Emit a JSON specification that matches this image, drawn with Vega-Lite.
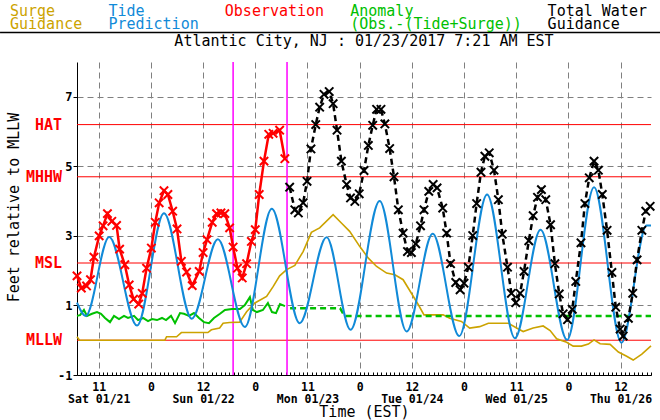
{
  "$schema": "https://vega.github.io/schema/vega-lite/v6.json",
  "autosize": {"type": "none"},
  "padding": {"left": 77, "top": 62, "right": 9, "bottom": 45},
  "width": 574,
  "height": 313,
  "background": "white",
  "config": {"view": {"stroke": null}, "font": "DejaVu Sans Mono", "style": {"guide-label": {"lineHeight": 12.5}}},
  "title": {"text": "Atlantic City, NJ : 01/23/2017 7:21 AM EST", "font": "DejaVu Sans Mono", "fontSize": 15, "fontWeight": "normal", "anchor": "middle", "offset": 0, "dy": 57, "baseline": "alphabetic", "color": "black"},
  "datasets": {
    "series": [
      {"s":"Tide","h":-5,"v":1.08},{"s":"Tide","h":-3,"v":0.7},{"s":"Tide","h":2.4,"v":2.97},{"s":"Tide","h":8.8,"v":0.42},{"s":"Tide","h":15,"v":3.65},{"s":"Tide","h":21.4,"v":0.62},{"s":"Tide","h":27.4,"v":2.9},{"s":"Tide","h":33.6,"v":0.38},{"s":"Tide","h":39.8,"v":3.78},{"s":"Tide","h":46.2,"v":0.49},{"s":"Tide","h":52.4,"v":2.96},{"s":"Tide","h":57.9,"v":0.3},{"s":"Tide","h":64.6,"v":4.0},{"s":"Tide","h":70.8,"v":0.25},{"s":"Tide","h":76.8,"v":3.06},{"s":"Tide","h":82.9,"v":0.12},{"s":"Tide","h":89.3,"v":4.19},{"s":"Tide","h":95.7,"v":0.06},{"s":"Tide","h":101.6,"v":3.18},{"s":"Tide","h":107.7,"v":0.01},{"s":"Tide","h":113.9,"v":4.4},{"s":"Tide","h":120.2,"v":-0.07},{"s":"Tide","h":126,"v":3.3},{"s":"Tide","h":127,"v":3.3},

      {"s":"Observation","h":-5,"v":1.85},{"s":"Observation","h":-4,"v":1.5},{"s":"Observation","h":-2.8,"v":1.56},{"s":"Observation","h":-1.9,"v":1.74},{"s":"Observation","h":-1.1,"v":2.39},{"s":"Observation","h":0.1,"v":3.0},{"s":"Observation","h":1.0,"v":3.29},{"s":"Observation","h":2.0,"v":3.64},{"s":"Observation","h":3.0,"v":3.42},{"s":"Observation","h":4.1,"v":3.3},{"s":"Observation","h":4.8,"v":2.62},{"s":"Observation","h":6.0,"v":2.17},{"s":"Observation","h":7.0,"v":1.59},{"s":"Observation","h":8.0,"v":1.18},{"s":"Observation","h":9.2,"v":1.04},{"s":"Observation","h":10.0,"v":1.35},{"s":"Observation","h":11.0,"v":2.07},{"s":"Observation","h":12.1,"v":2.65},{"s":"Observation","h":13.0,"v":3.39},{"s":"Observation","h":13.9,"v":3.95},{"s":"Observation","h":15.0,"v":4.3},{"s":"Observation","h":15.9,"v":4.19},{"s":"Observation","h":17.0,"v":3.71},{"s":"Observation","h":18.0,"v":3.2},{"s":"Observation","h":19.0,"v":2.27},{"s":"Observation","h":20.2,"v":1.96},{"s":"Observation","h":21.5,"v":1.57},{"s":"Observation","h":23.1,"v":1.98},{"s":"Observation","h":24.0,"v":2.52},{"s":"Observation","h":24.9,"v":2.89},{"s":"Observation","h":26.1,"v":3.39},{"s":"Observation","h":27.1,"v":3.64},{"s":"Observation","h":28.1,"v":3.66},{"s":"Observation","h":29.0,"v":3.64},{"s":"Observation","h":30.1,"v":3.23},{"s":"Observation","h":30.9,"v":2.68},{"s":"Observation","h":31.9,"v":2.07},{"s":"Observation","h":33.0,"v":1.79},{"s":"Observation","h":34.0,"v":2.2},{"s":"Observation","h":35.1,"v":2.84},{"s":"Observation","h":36.0,"v":3.18},{"s":"Observation","h":36.9,"v":4.19},{"s":"Observation","h":38.0,"v":5.15},{"s":"Observation","h":39.1,"v":5.92},{"s":"Observation","h":40.1,"v":5.95},{"s":"Observation","h":41.6,"v":6.04},{"s":"Observation","h":42.8,"v":5.22},

      {"s":"Total","h":43.9,"v":4.4},{"s":"Total","h":45.1,"v":3.75},{"s":"Total","h":45.9,"v":3.66},{"s":"Total","h":47.0,"v":3.95},{"s":"Total","h":47.9,"v":4.57},{"s":"Total","h":48.8,"v":5.5},{"s":"Total","h":49.9,"v":6.2},{"s":"Total","h":50.8,"v":6.7},{"s":"Total","h":51.8,"v":7.07},{"s":"Total","h":53.0,"v":7.15},{"s":"Total","h":53.9,"v":6.8},{"s":"Total","h":54.8,"v":6.04},{"s":"Total","h":55.8,"v":5.15},{"s":"Total","h":57.0,"v":4.48},{"s":"Total","h":57.9,"v":4.09},{"s":"Total","h":58.9,"v":3.99},{"s":"Total","h":59.9,"v":4.21},{"s":"Total","h":61.0,"v":4.88},{"s":"Total","h":62.0,"v":5.6},{"s":"Total","h":63.0,"v":6.18},{"s":"Total","h":63.9,"v":6.64},{"s":"Total","h":64.9,"v":6.64},{"s":"Total","h":65.8,"v":6.22},{"s":"Total","h":66.9,"v":5.51},{"s":"Total","h":67.9,"v":4.7},{"s":"Total","h":68.9,"v":3.75},{"s":"Total","h":70.0,"v":3.08},{"s":"Total","h":71.0,"v":2.55},{"s":"Total","h":71.9,"v":2.52},{"s":"Total","h":72.9,"v":2.77},{"s":"Total","h":74.0,"v":3.29},{"s":"Total","h":74.8,"v":3.75},{"s":"Total","h":75.9,"v":4.28},{"s":"Total","h":76.9,"v":4.48},{"s":"Total","h":77.8,"v":4.38},{"s":"Total","h":79.1,"v":3.8},{"s":"Total","h":80.0,"v":3.08},{"s":"Total","h":80.9,"v":2.2},{"s":"Total","h":82.1,"v":1.66},{"s":"Total","h":83.1,"v":1.45},{"s":"Total","h":84.0,"v":1.64},{"s":"Total","h":85.0,"v":2.1},{"s":"Total","h":86.0,"v":3.01},{"s":"Total","h":86.9,"v":3.93},{"s":"Total","h":87.9,"v":4.83},{"s":"Total","h":88.8,"v":5.29},{"s":"Total","h":89.8,"v":5.39},{"s":"Total","h":90.9,"v":4.89},{"s":"Total","h":91.9,"v":4.04},{"s":"Total","h":92.8,"v":3.05},{"s":"Total","h":94.0,"v":2.1},{"s":"Total","h":94.9,"v":1.35},{"s":"Total","h":95.9,"v":1.08},{"s":"Total","h":96.9,"v":1.35},{"s":"Total","h":97.8,"v":1.98},{"s":"Total","h":98.9,"v":2.86},{"s":"Total","h":99.9,"v":3.58},{"s":"Total","h":100.9,"v":4.11},{"s":"Total","h":101.8,"v":4.33},{"s":"Total","h":102.8,"v":4.04},{"s":"Total","h":103.9,"v":3.32},{"s":"Total","h":104.9,"v":2.2},{"s":"Total","h":105.9,"v":1.33},{"s":"Total","h":106.8,"v":0.76},{"s":"Total","h":107.8,"v":0.59},{"s":"Total","h":108.9,"v":0.89},{"s":"Total","h":109.7,"v":1.69},{"s":"Total","h":110.9,"v":2.8},{"s":"Total","h":111.8,"v":3.93},{"s":"Total","h":112.8,"v":4.67},{"s":"Total","h":113.9,"v":5.15},{"s":"Total","h":114.9,"v":4.89},{"s":"Total","h":115.8,"v":4.19},{"s":"Total","h":116.9,"v":3.16},{"s":"Total","h":118.0,"v":1.95},{"s":"Total","h":118.9,"v":0.95},{"s":"Total","h":119.9,"v":0.32},{"s":"Total","h":120.6,"v":0.12},{"s":"Total","h":121.8,"v":0.63},{"s":"Total","h":122.8,"v":1.35},{"s":"Total","h":123.8,"v":2.31},{"s":"Total","h":124.9,"v":3.16},{"s":"Total","h":125.8,"v":3.71},{"s":"Total","h":126.8,"v":3.85},

      {"s":"Surge","h":-5,"v":0.1},{"s":"Surge","h":-4.4,"v":0.0},{"s":"Surge","h":15.2,"v":0.0},{"s":"Surge","h":15.6,"v":0.1},{"s":"Surge","h":17.9,"v":0.1},{"s":"Surge","h":19.0,"v":0.22},{"s":"Surge","h":25.1,"v":0.22},{"s":"Surge","h":25.9,"v":0.3},{"s":"Surge","h":27.8,"v":0.35},{"s":"Surge","h":28.6,"v":0.49},{"s":"Surge","h":30.1,"v":0.51},{"s":"Surge","h":32.4,"v":0.52},{"s":"Surge","h":34.0,"v":0.82},{"s":"Surge","h":35.9,"v":1.07},{"s":"Surge","h":38.6,"v":1.26},{"s":"Surge","h":40.1,"v":1.54},{"s":"Surge","h":41.6,"v":1.85},{"s":"Surge","h":43.2,"v":2.03},{"s":"Surge","h":45.1,"v":2.15},{"s":"Surge","h":47.0,"v":2.55},{"s":"Surge","h":48.9,"v":3.1},{"s":"Surge","h":50.8,"v":3.23},{"s":"Surge","h":53.9,"v":3.61},{"s":"Surge","h":55.8,"v":3.37},{"s":"Surge","h":57.7,"v":3.13},{"s":"Surge","h":60.0,"v":2.7},{"s":"Surge","h":62.0,"v":2.36},{"s":"Surge","h":63.9,"v":2.12},{"s":"Surge","h":66.2,"v":1.93},{"s":"Surge","h":68.1,"v":1.88},{"s":"Surge","h":70.0,"v":1.74},{"s":"Surge","h":71.9,"v":1.35},{"s":"Surge","h":73.5,"v":1.02},{"s":"Surge","h":74.8,"v":0.73},{"s":"Surge","h":79.2,"v":0.73},{"s":"Surge","h":80.7,"v":0.63},{"s":"Surge","h":83.4,"v":0.54},{"s":"Surge","h":85.3,"v":0.35},{"s":"Surge","h":87.6,"v":0.39},{"s":"Surge","h":89.6,"v":0.49},{"s":"Surge","h":94.2,"v":0.49},{"s":"Surge","h":96.1,"v":0.35},{"s":"Surge","h":97.6,"v":0.25},{"s":"Surge","h":99.9,"v":0.35},{"s":"Surge","h":102.2,"v":0.41},{"s":"Surge","h":103.8,"v":0.28},{"s":"Surge","h":105.3,"v":0.04},{"s":"Surge","h":107.6,"v":-0.06},{"s":"Surge","h":109.1,"v":-0.17},{"s":"Surge","h":111.0,"v":-0.17},{"s":"Surge","h":112.6,"v":-0.11},{"s":"Surge","h":113.9,"v":0.01},{"s":"Surge","h":115.3,"v":-0.1},{"s":"Surge","h":117.6,"v":-0.12},{"s":"Surge","h":119.5,"v":-0.34},{"s":"Surge","h":121.4,"v":-0.46},{"s":"Surge","h":122.9,"v":-0.57},{"s":"Surge","h":124.9,"v":-0.4},{"s":"Surge","h":127.0,"v":-0.16},

      {"s":"Anomaly","k":"obs","h":-5,"v":0.7},{"s":"Anomaly","k":"obs","h":-4.3,"v":0.72},{"s":"Anomaly","k":"obs","h":-3.4,"v":0.87},{"s":"Anomaly","k":"obs","h":-2.7,"v":0.7},{"s":"Anomaly","k":"obs","h":-1.55,"v":0.76},{"s":"Anomaly","k":"obs","h":-0.4,"v":0.81},{"s":"Anomaly","k":"obs","h":0.52,"v":0.76},{"s":"Anomaly","k":"obs","h":1.44,"v":0.64},{"s":"Anomaly","k":"obs","h":2.59,"v":0.52},{"s":"Anomaly","k":"obs","h":3.51,"v":0.7},{"s":"Anomaly","k":"obs","h":4.66,"v":0.61},{"s":"Anomaly","k":"obs","h":5.81,"v":0.7},{"s":"Anomaly","k":"obs","h":6.73,"v":0.64},{"s":"Anomaly","k":"obs","h":8.11,"v":0.7},{"s":"Anomaly","k":"obs","h":9.03,"v":0.58},{"s":"Anomaly","k":"obs","h":10.18,"v":0.64},{"s":"Anomaly","k":"obs","h":11.33,"v":0.55},{"s":"Anomaly","k":"obs","h":12.25,"v":0.61},{"s":"Anomaly","k":"obs","h":13.4,"v":0.58},{"s":"Anomaly","k":"obs","h":14.55,"v":0.64},{"s":"Anomaly","k":"obs","h":15.47,"v":0.58},{"s":"Anomaly","k":"obs","h":16.62,"v":0.7},{"s":"Anomaly","k":"obs","h":17.54,"v":0.49},{"s":"Anomaly","k":"obs","h":18.69,"v":0.78},{"s":"Anomaly","k":"obs","h":19.6,"v":0.76},{"s":"Anomaly","k":"obs","h":20.75,"v":0.7},{"s":"Anomaly","k":"obs","h":21.9,"v":0.78},{"s":"Anomaly","k":"obs","h":23.06,"v":0.64},{"s":"Anomaly","k":"obs","h":24.2,"v":0.52},{"s":"Anomaly","k":"obs","h":25.35,"v":0.49},{"s":"Anomaly","k":"obs","h":26.5,"v":0.64},{"s":"Anomaly","k":"obs","h":27.88,"v":0.76},{"s":"Anomaly","k":"obs","h":29.03,"v":0.87},{"s":"Anomaly","k":"obs","h":30.64,"v":0.9},{"s":"Anomaly","k":"obs","h":32.48,"v":0.9},{"s":"Anomaly","k":"obs","h":33.6,"v":1.01},{"s":"Anomaly","k":"obs","h":34.76,"v":1.24},{"s":"Anomaly","k":"obs","h":35.45,"v":0.87},{"s":"Anomaly","k":"obs","h":36.37,"v":0.81},{"s":"Anomaly","k":"obs","h":37.75,"v":0.87},{"s":"Anomaly","k":"obs","h":38.9,"v":1.07},{"s":"Anomaly","k":"obs","h":39.84,"v":0.81},{"s":"Anomaly","k":"obs","h":40.76,"v":0.78},{"s":"Anomaly","k":"obs","h":41.68,"v":1.04},{"s":"Anomaly","k":"obs","h":42.83,"v":0.98},

      {"s":"Anomaly","k":"fcst","h":44,"v":0.92},{"s":"Anomaly","k":"fcst","h":55.5,"v":0.92},{"s":"Anomaly","k":"fcst","h":56.5,"v":0.7},{"s":"Anomaly","k":"fcst","h":127,"v":0.7}
    ],
    "levels": [
      {"level":"HAT","v":6.2},{"level":"MHHW","v":4.7},{"level":"MSL","v":2.22},{"level":"MLLW","v":0}
    ],
    "events": [
      {"event":"previous run","h":30.9},{"event":"current time","h":43.3}
    ],
    "frame": [{"part":"header rule"}]
  },
  "resolve": {"axis": {"x": "independent"}},
  "layer": [
    {
      "data": {"name": "levels"},
      "mark": {"type": "rule", "color": "#ff0000", "strokeWidth": 1},
      "encoding": {
        "y": {"field": "v", "type": "quantitative", "scale": {"domain": [-1, 8], "nice": false, "zero": false},
          "axis": {"values": [-1,0,1,2,3,4,5,6,7,8], "grid": true, "gridColor": "#808080", "gridDash": [6,4], "gridWidth": 1,
            "tickSize": 4, "tickColor": "black", "domainColor": "black", "domainWidth": 1, "labelOverlap": false, "labelFlush": false,
            "labelExpr": "'' + datum.value", "labelFont": "DejaVu Sans Mono", "labelFontWeight": "bold", "labelFontSize": 12, "labelColor": "black", "labelPadding": 1,
            "title": "Feet relative to MLLW", "titleFont": "DejaVu Sans Mono", "titleFontSize": 15, "titleFontWeight": "normal", "titleColor": "black",
            "titleX": -64, "titleY": 145, "titleAngle": 270, "titleAlign": "center", "titleBaseline": "middle"}}
      }
    },
    {
      "data": {"name": "levels"},
      "mark": {"type": "text", "color": "#ff0000", "align": "right", "baseline": "middle", "dx": -15, "font": "DejaVu Sans Mono", "fontSize": 15, "fontWeight": "bold"},
      "encoding": {
        "x": {"datum": -5, "type": "quantitative", "scale": {"domain": [-5, 127], "nice": false, "zero": false}, "axis": null},
        "y": {"field": "v", "type": "quantitative", "scale": {"domain": [-1, 8], "nice": false, "zero": false}},
        "text": {"field": "level"}
      }
    },
    {
      "data": {"name": "events"},
      "mark": {"type": "rule", "color": "#ff00ff", "strokeWidth": 1.5},
      "encoding": {
        "x": {"field": "h", "type": "quantitative", "scale": {"domain": [-5, 127], "nice": false, "zero": false}, "axis": null}
      }
    },
    {
      "data": {"name": "frame"},
      "mark": {"type": "rule", "color": "black", "strokeWidth": 1.5},
      "encoding": {
        "x": {"datum": -22.7, "type": "quantitative", "scale": {"domain": [-5, 127], "nice": false, "zero": false}, "axis": null},
        "x2": {"datum": 129.1},
        "y": {"datum": 8.85, "type": "quantitative", "scale": {"domain": [-1, 8], "nice": false, "zero": false}}
      }
    },
    {
      "data": {"name": "series"},
      "transform": [{"filter": "datum.s == 'Surge'"}],
      "mark": {"type": "line", "strokeWidth": 1.6},
      "encoding": {
        "x": {"field": "h", "type": "quantitative", "scale": {"domain": [-5, 127], "nice": false, "zero": false},
          "axis": {"orient": "bottom", "values": [-4,-3,-2,-1,0,1,2,3,4,5,6,7,8,9,10,11,12,13,14,15,16,17,18,19,20,21,22,23,24,25,26,27,28,29,30,31,32,33,34,35,36,37,38,39,40,41,42,43,44,45,46,47,48,49,50,51,52,53,54,55,56,57,58,59,60,61,62,63,64,65,66,67,68,69,70,71,72,73,74,75,76,77,78,79,80,81,82,83,84,85,86,87,88,89,90,91,92,93,94,95,96,97,98,99,100,101,102,103,104,105,106,107,108,109,110,111,112,113,114,115,116,117,118,119,120,121,122,123,124,125,126,127],
            "grid": false, "domain": false, "labels": false, "ticks": true, "tickSize": -3, "tickColor": "black", "tickWidth": 1, "title": null}},
        "y": {"field": "v", "type": "quantitative", "scale": {"domain": [-1, 8], "nice": false, "zero": false}},
        "color": {"field": "s", "type": "nominal",
          "scale": {"domain": ["Surge", "Tide", "Observation", "Anomaly", "Total"], "range": ["#cca300", "#118ad8", "#ff0000", "#00c000", "#000000"]},
          "legend": {"orient": "none", "legendX": -82, "legendY": -58.5, "direction": "horizontal", "title": null,
            "symbolSize": 0, "symbolOpacity": 0, "symbolStrokeWidth": 0, "labelOffset": 0, "columnPadding": 10.4, "padding": 0,
            "labelFont": "DejaVu Sans Mono", "labelFontSize": 15, "labelBaseline": "middle", "labelLimit": 400,
            "labelColor": {"expr": "datum.value=='Surge'?'#cca300':datum.value=='Tide'?'#118ad8':datum.value=='Observation'?'#ff0000':datum.value=='Anomaly'?'#00c000':'#000000'"},
            "labelExpr": "datum.value=='Surge'?['Surge','Guidance']:datum.value=='Tide'?['Tide','Prediction']:datum.value=='Observation'?['Observation','']:datum.value=='Anomaly'?['Anomaly','(Obs.-(Tide+Surge))']:['Total Water','Guidance']"}
        }
      }
    },
    {
      "data": {"name": "series"},
      "transform": [{"filter": "datum.s == 'Anomaly' && datum.k == 'obs'"}],
      "mark": {"type": "line", "strokeWidth": 2, "color": "#00c000"},
      "encoding": {
        "x": {"field": "h", "type": "quantitative", "scale": {"domain": [-5, 127], "nice": false, "zero": false}, "axis": null},
        "y": {"field": "v", "type": "quantitative", "scale": {"domain": [-1, 8], "nice": false, "zero": false}}
      }
    },
    {
      "data": {"name": "series"},
      "transform": [{"filter": "datum.s == 'Anomaly' && datum.k == 'fcst'"}],
      "mark": {"type": "line", "strokeWidth": 2.5, "color": "#00c000", "strokeDash": [6, 4]},
      "encoding": {
        "x": {"field": "h", "type": "quantitative", "scale": {"domain": [-5, 127], "nice": false, "zero": false}, "axis": null},
        "y": {"field": "v", "type": "quantitative", "scale": {"domain": [-1, 8], "nice": false, "zero": false}}
      }
    },
    {
      "data": {"name": "series"},
      "transform": [{"filter": "datum.s == 'Tide'"}],
      "mark": {"type": "line", "strokeWidth": 2, "interpolate": "monotone", "color": "#118ad8"},
      "encoding": {
        "x": {"field": "h", "type": "quantitative", "scale": {"domain": [-5, 127], "nice": false, "zero": false},
          "axis": {"orient": "bottom", "values": [0,12,24,36,48,60,72,84,96,108,120], "grid": true, "gridColor": "#808080", "gridDash": [6,4], "gridWidth": 1,
            "ticks": false, "domain": true, "domainColor": "black", "domainWidth": 1,
            "labelExpr": "[['11','Sat 01/21'],['0'],['12','Sun 01/22'],['0'],['11','Mon 01/23'],['0'],['12','Tue 01/24'],['0'],['11','Wed 01/25'],['0'],['12','Thu 01/26']][round(datum.value/12)]",
            "labelFont": "DejaVu Sans Mono", "labelFontWeight": "bold", "labelFontSize": 11.5, "labelColor": "black", "labelBaseline": "top", "labelPadding": 6, "labelLineHeight": 12.5,
            "labelOverlap": false, "labelFlush": false,
            "title": "Time (EST)", "titleFont": "DejaVu Sans Mono", "titleFontSize": 15, "titleFontWeight": "normal", "titleColor": "black", "titleY": 41, "titleBaseline": "alphabetic"}},
        "y": {"field": "v", "type": "quantitative", "scale": {"domain": [-1, 8], "nice": false, "zero": false}}
      }
    },
    {
      "data": {"name": "series"},
      "transform": [{"filter": "datum.s == 'Observation'"}],
      "mark": {"type": "line", "strokeWidth": 2.5, "color": "#ff0000"},
      "encoding": {
        "x": {"field": "h", "type": "quantitative", "scale": {"domain": [-5, 127], "nice": false, "zero": false}, "axis": null},
        "y": {"field": "v", "type": "quantitative", "scale": {"domain": [-1, 8], "nice": false, "zero": false}}
      }
    },
    {
      "data": {"name": "series"},
      "transform": [{"filter": "datum.s == 'Observation'"}],
      "mark": {"type": "point", "shape": "M-1,-1L1,1M-1,1L1,-1", "filled": false, "color": "#ff0000", "size": 70, "strokeWidth": 2, "opacity": 1},
      "encoding": {
        "x": {"field": "h", "type": "quantitative", "scale": {"domain": [-5, 127], "nice": false, "zero": false}, "axis": null},
        "y": {"field": "v", "type": "quantitative", "scale": {"domain": [-1, 8], "nice": false, "zero": false}}
      }
    },
    {
      "data": {"name": "series"},
      "transform": [{"filter": "datum.s == 'Total'"}],
      "mark": {"type": "line", "strokeWidth": 2.5, "strokeDash": [6, 4], "color": "#000000"},
      "encoding": {
        "x": {"field": "h", "type": "quantitative", "scale": {"domain": [-5, 127], "nice": false, "zero": false}, "axis": null},
        "y": {"field": "v", "type": "quantitative", "scale": {"domain": [-1, 8], "nice": false, "zero": false}}
      }
    },
    {
      "data": {"name": "series"},
      "transform": [{"filter": "datum.s == 'Total'"}],
      "mark": {"type": "point", "shape": "M-1,-1L1,1M-1,1L1,-1", "filled": false, "color": "#000000", "size": 70, "strokeWidth": 2, "opacity": 1},
      "encoding": {
        "x": {"field": "h", "type": "quantitative", "scale": {"domain": [-5, 127], "nice": false, "zero": false}, "axis": null},
        "y": {"field": "v", "type": "quantitative", "scale": {"domain": [-1, 8], "nice": false, "zero": false}}
      }
    }
  ]
}
